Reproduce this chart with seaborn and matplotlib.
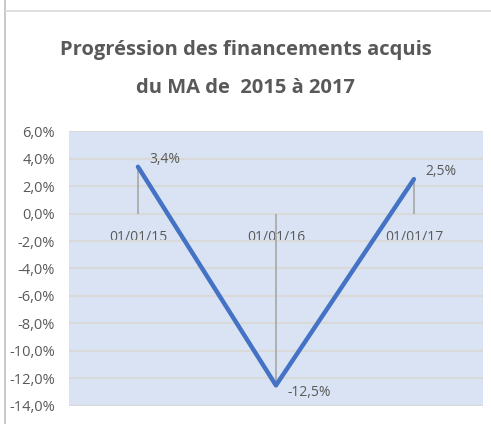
import matplotlib
matplotlib.use("Agg")
import matplotlib.pyplot as plt
from matplotlib.lines import Line2D
from matplotlib.ticker import FuncFormatter, MultipleLocator
import seaborn as sns
import pandas as pd

# données
dates = ["01/01/15", "01/01/16", "01/01/17"]
progression = [3.4, -12.5, 2.5]  # en %
titre = "Progréssion des financements acquis\ndu MA de  2015 à 2017"

df = pd.DataFrame({"date": dates, "progression": progression})

sns.set_theme(style="white")
plt.rcParams["font.family"] = ["Open Sans", "DejaVu Sans"]

gris = "#595959"
fig = plt.figure(figsize=(4.91, 4.24), dpi=100)
ax = fig.add_axes([0.1405, 0.0425, 0.843, 0.6485])
ax.set_facecolor("#DAE3F3")

# lignes de rappel verticales (de 0 jusqu'au point)
ax.vlines(range(len(dates)), 0, progression, color="#A6A6A6", lw=1.2, zorder=2)

sns.lineplot(data=df, x="date", y="progression", ax=ax, color="#4472C4",
             lw=3.2, sort=False, zorder=3)

for i, v in enumerate(progression):
    ax.annotate(f"{v:.1f}%".replace(".", ","), (i, v), xytext=(8, 0),
                textcoords="offset points", ha="left",
                va="bottom" if v > 0 else "top",
                fontsize=10, color=gris)

ax.set_xlim(-0.5, 2.5)
ax.set_ylim(-14, 6)
ax.yaxis.set_major_locator(MultipleLocator(2))
ax.yaxis.set_major_formatter(FuncFormatter(lambda v, p: f"{v:.1f}%".replace(".", ",")))
ax.grid(axis="y", color="#D9D9D9", lw=1.5)
ax.set_axisbelow(True)

# axe des dates sur la ligne du 0
for s in ["top", "right", "left"]:
    ax.spines[s].set_visible(False)
ax.spines["bottom"].set_position(("data", 0))
ax.spines["bottom"].set_visible(False)
ax.tick_params(axis="x", length=0, pad=12, labelsize=10, labelcolor=gris)
ax.tick_params(axis="y", length=0, pad=10, labelsize=10.5, labelcolor=gris)
ax.set_xlabel("")
ax.set_ylabel("")

fig.text(0.5, 0.905, titre, ha="center", va="top", fontsize=14.5,
         fontweight="bold", color=gris, linespacing=2.15)

# cadre
fig.add_artist(Line2D([0.011, 0.011], [0, 1], color="#BFBFBF", lw=1.2))
fig.add_artist(Line2D([0.011, 1], [0.973, 0.973], color="#D9D9D9", lw=1.2))

fig.savefig("out.png", dpi=100)
